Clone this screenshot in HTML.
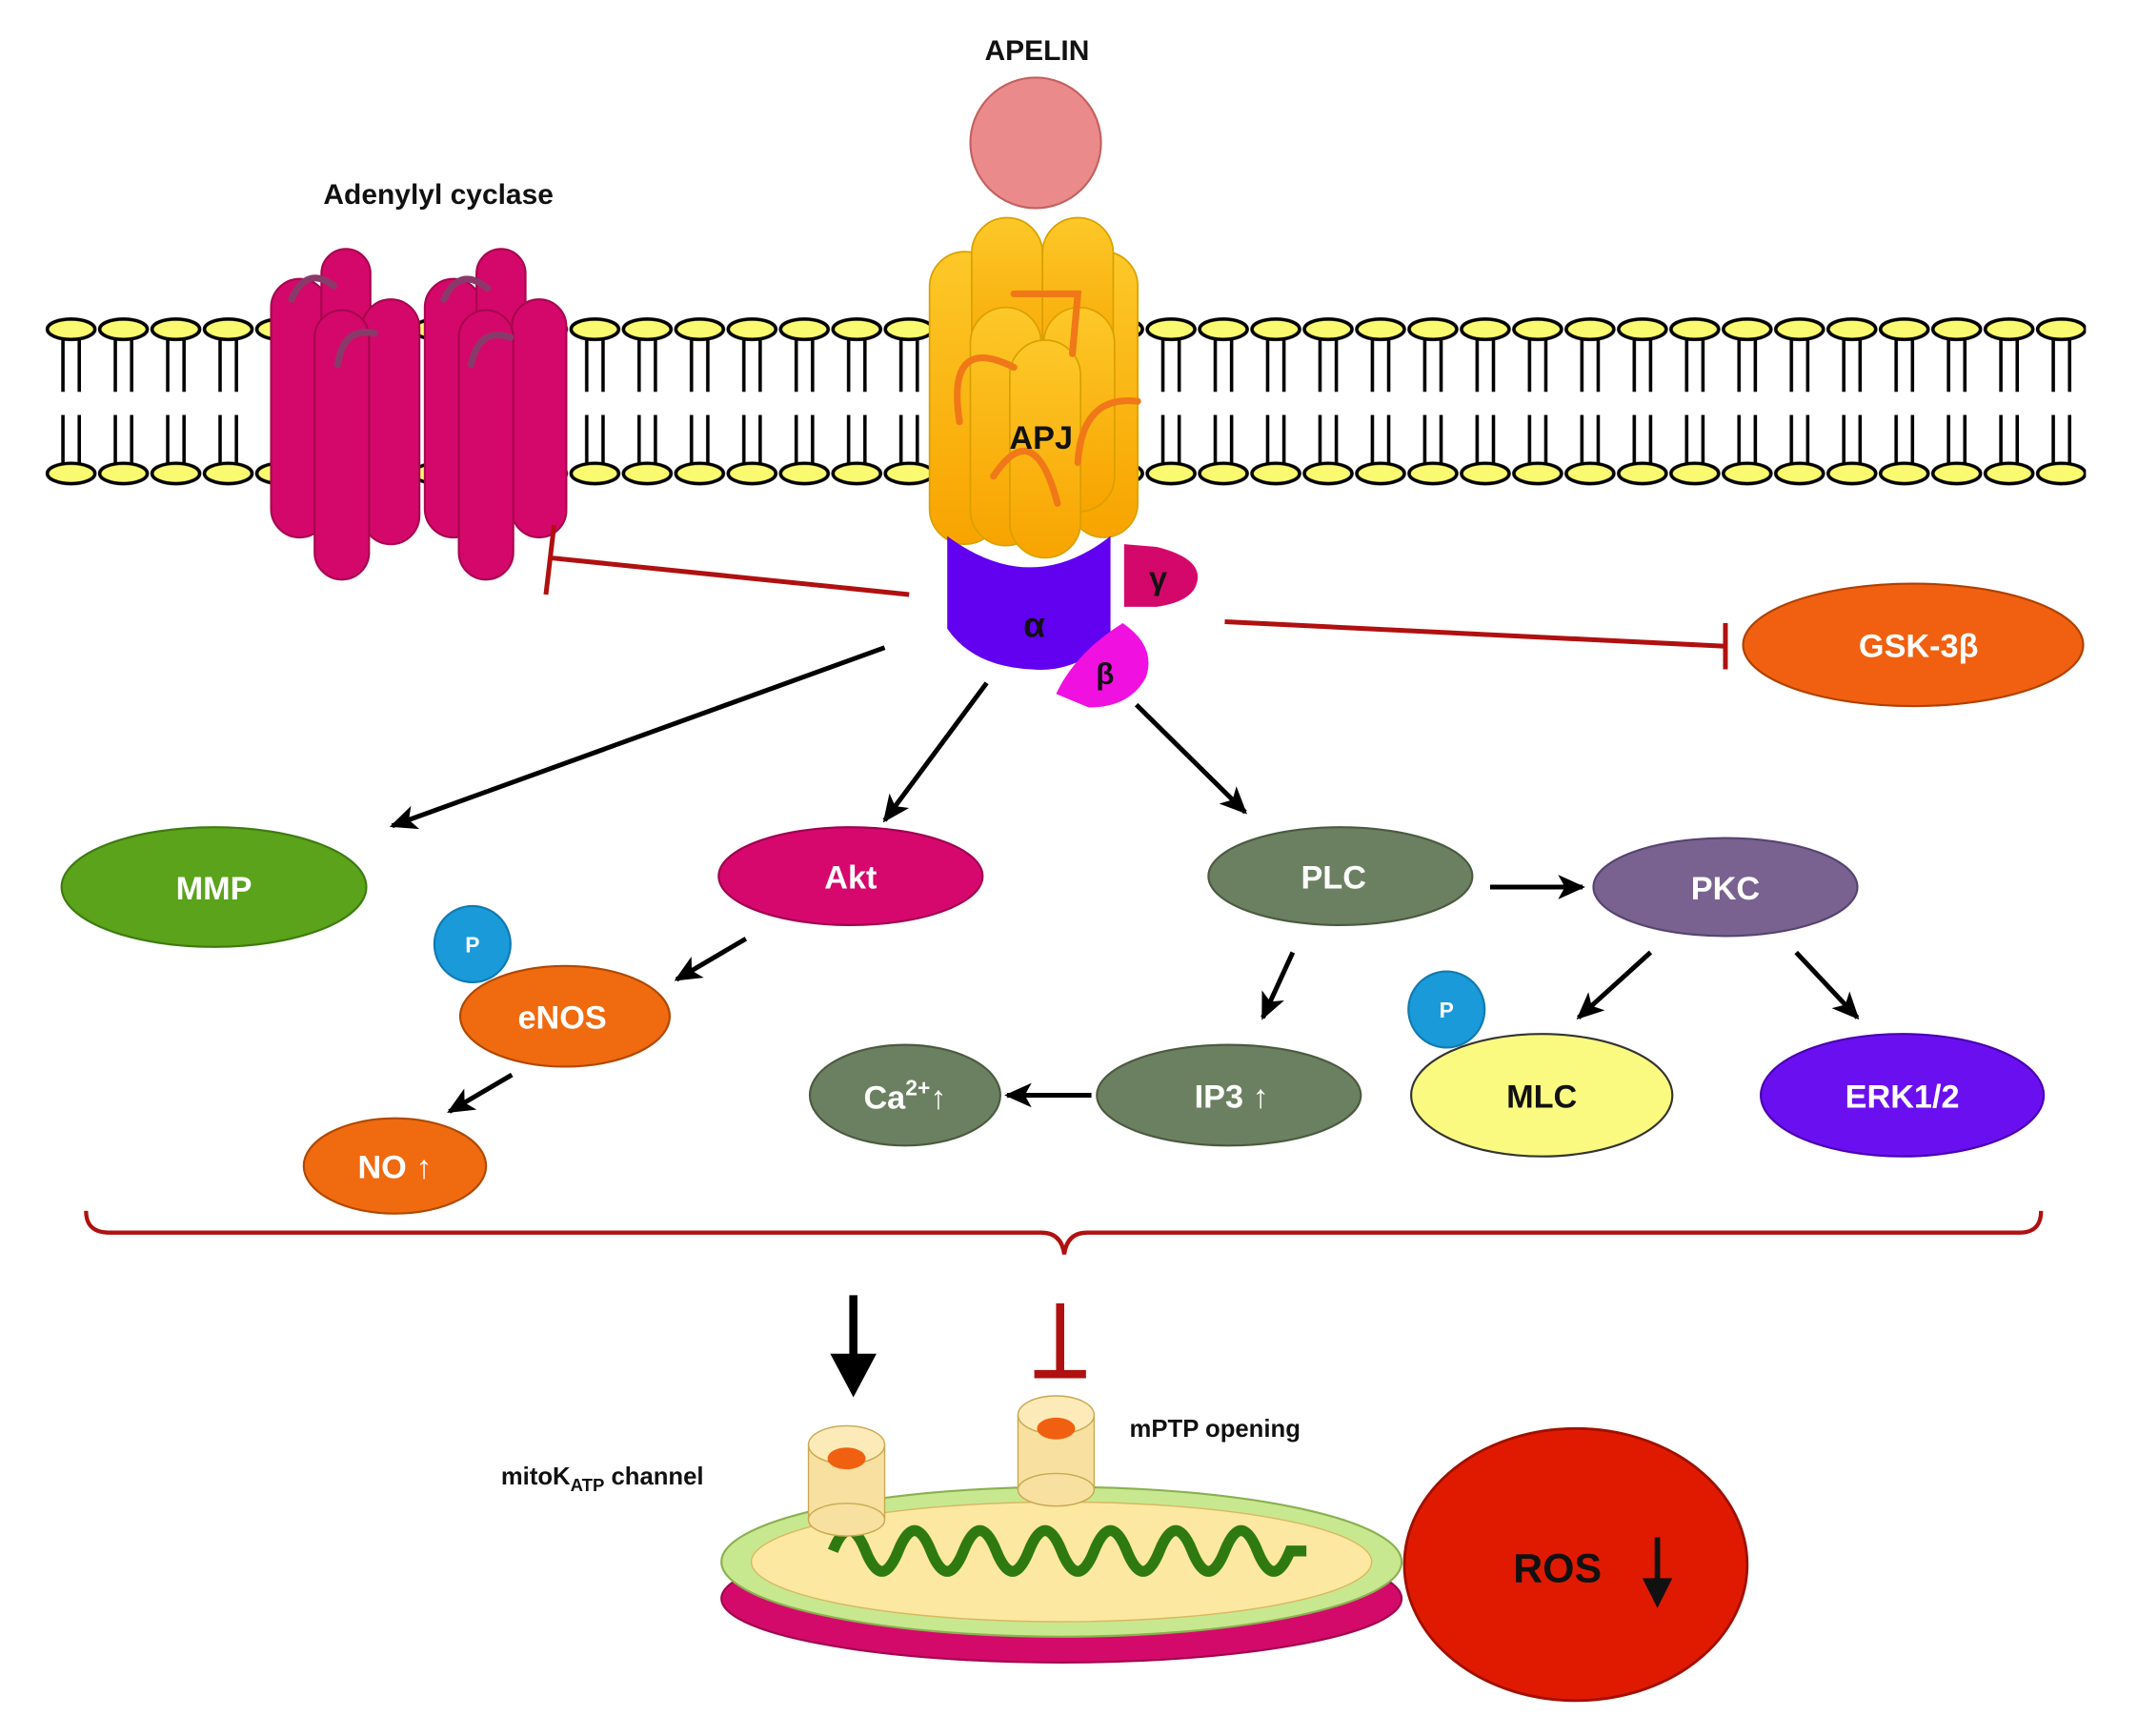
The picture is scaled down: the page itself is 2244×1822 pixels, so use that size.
<!DOCTYPE html>
<html><head><meta charset="utf-8"><style>html,body{margin:0;padding:0;background:#fff}svg{display:block}</style></head>
<body>
<svg width="2244" height="1822" viewBox="0 0 1571 1276" xmlns="http://www.w3.org/2000/svg" font-family="'Liberation Sans', 'DejaVu Sans', sans-serif" font-weight="bold">
<defs>
<pattern id="mem" patternUnits="userSpaceOnUse" x="33" y="230" width="38.5" height="128">
<g stroke="#000" stroke-width="2.5">
<line x1="13" y1="18" x2="13" y2="58"/><line x1="25" y1="18" x2="25" y2="58"/>
<line x1="13" y1="75" x2="13" y2="112"/><line x1="25" y1="75" x2="25" y2="112"/>
<ellipse cx="19" cy="12" rx="17.5" ry="7.5" fill="#fafa70"/>
<ellipse cx="19" cy="118" rx="17.5" ry="7.5" fill="#fafa70"/>
</g>
</pattern>
<linearGradient id="apj" x1="0" y1="0" x2="0" y2="1"><stop offset="0" stop-color="#fcc828"/><stop offset="1" stop-color="#f8a400"/></linearGradient>
<marker id="arb" markerWidth="24" markerHeight="24" refX="20" refY="12" orient="auto" markerUnits="userSpaceOnUse"><path d="M2,3 L22,12 L2,21 L7,12 Z" fill="#000"/></marker>
</defs>
<rect x="33" y="230" width="1500" height="128" fill="url(#mem)"/>

<text x="322" y="150" font-size="21" text-anchor="middle" fill="#111">Adenylyl cyclase</text>
<text x="762" y="44" font-size="21" text-anchor="middle" fill="#111">APELIN</text>

<g fill="#d4086a" stroke="#a8064f" stroke-width="1.5">
<rect x="199" y="205" width="42" height="190" rx="21"/>
<rect x="236" y="183" width="36" height="180" rx="18"/>
<rect x="266" y="220" width="42" height="180" rx="21"/>
<rect x="231" y="228" width="40" height="198" rx="20"/>
<rect x="312" y="205" width="42" height="190" rx="21"/>
<rect x="350" y="183" width="36" height="180" rx="18"/>
<rect x="376" y="220" width="40" height="175" rx="20"/>
<rect x="337" y="228" width="40" height="198" rx="20"/>
</g>
<g fill="none" stroke="#8a3a6a" stroke-width="5" stroke-linecap="round">
<path d="M214,220 Q225,195 245,210"/><path d="M248,268 Q252,240 275,245"/>
<path d="M326,220 Q338,195 358,212"/><path d="M346,268 Q352,240 375,248"/>
</g>

<circle cx="761" cy="105" r="48" fill="#eb8a8a" stroke="#c46060" stroke-width="1.5"/>

<g fill="url(#apj)" stroke="#d9a000" stroke-width="1.2">
<rect x="683" y="185" width="52" height="215" rx="26"/>
<rect x="786" y="185" width="50" height="210" rx="25"/>
<rect x="714" y="160" width="52" height="120" rx="26"/>
<rect x="766" y="160" width="52" height="120" rx="26"/>
<rect x="713" y="226" width="52" height="175" rx="26"/>
<rect x="767" y="226" width="52" height="150" rx="26"/>
<rect x="742" y="250" width="52" height="160" rx="26"/>
</g>
<g fill="none" stroke="#f07818" stroke-width="5" stroke-linecap="round">
<path d="M705,310 Q695,245 745,270"/><path d="M730,350 Q760,305 777,370"/>
<path d="M792,340 Q795,290 836,295"/><path d="M745,216 L792,216 L788,260"/>
</g>
<text x="765" y="330" font-size="24" text-anchor="middle" fill="#111">APJ</text>

<path d="M696,394 Q758,440 816,394 L816,470 Q790,495 758,492 Q715,490 696,462 Z" fill="#6200f0"/>
<text x="760" y="468" font-size="26" text-anchor="middle" fill="#111">α</text>
<path d="M826,400 L850,402 Q882,410 880,426 Q878,442 850,446 L826,446 Z" fill="#d4086a"/>
<text x="851" y="433" font-size="24" text-anchor="middle" fill="#111">γ</text>
<path d="M776,510 Q790,480 825,458 Q850,475 842,498 Q830,520 800,520 Z" fill="#f010e0"/>
<text x="812" y="503" font-size="22" text-anchor="middle" fill="#111">β</text>

<g stroke="#b01010" stroke-width="3.5" fill="none">
<line x1="668" y1="437" x2="404" y2="410"/><line x1="407" y1="386" x2="401" y2="437"/>
<line x1="900" y1="457" x2="1268" y2="475"/><line x1="1268" y1="458" x2="1268" y2="492"/>
</g>

<g stroke="#000" stroke-width="3.5" marker-end="url(#arb)">
<line x1="650" y1="476" x2="288" y2="607"/>
<line x1="725" y1="502" x2="650" y2="603"/>
<line x1="835" y1="518" x2="915" y2="597"/>
<line x1="1095" y1="652" x2="1163" y2="652"/>
<line x1="548" y1="690" x2="497" y2="720"/>
<line x1="950" y1="700" x2="928" y2="748"/>
<line x1="802" y1="805" x2="740" y2="805"/>
<line x1="1213" y1="700" x2="1160" y2="748"/>
<line x1="1320" y1="700" x2="1365" y2="748"/>
<line x1="376" y1="790" x2="330" y2="817"/>
</g>

<g stroke-width="1.5">
<ellipse cx="157" cy="652" rx="112" ry="44" fill="#5aa31a" stroke="#3e7a10"/>
<ellipse cx="625" cy="644" rx="97" ry="36" fill="#d6086e" stroke="#a00050"/>
<ellipse cx="985" cy="644" rx="97" ry="36" fill="#6b8060" stroke="#4a5a40"/>
<ellipse cx="1268" cy="652" rx="97" ry="36" fill="#7a6290" stroke="#554470"/>
<ellipse cx="415" cy="747" rx="77" ry="37" fill="#f06a10" stroke="#b04800"/>
<ellipse cx="290" cy="857" rx="67" ry="35" fill="#f06a10" stroke="#b04800"/>
<ellipse cx="903" cy="805" rx="97" ry="37" fill="#6b8060" stroke="#4a5a40"/>
<ellipse cx="665" cy="805" rx="70" ry="37" fill="#6b8060" stroke="#4a5a40"/>
<ellipse cx="1133" cy="805" rx="96" ry="45" fill="#fafa80" stroke="#333"/>
<ellipse cx="1398" cy="805" rx="104" ry="45" fill="#6a10f0" stroke="#4a00b0"/>
<ellipse cx="1406" cy="474" rx="125" ry="45" fill="#f06010" stroke="#b04000"/>
<circle cx="347" cy="694" r="28" fill="#1a9ad8" stroke="#107ab0"/>
<circle cx="1063" cy="742" r="28" fill="#1a9ad8" stroke="#107ab0"/>
</g>
<g fill="#fff" font-size="24" text-anchor="middle">
<text x="157" y="661">MMP</text>
<text x="625" y="653">Akt</text>
<text x="980" y="653">PLC</text>
<text x="1268" y="661">PKC</text>
<text x="413" y="756">eNOS</text>
<text x="290" y="866">NO ↑</text>
<text x="905" y="814">IP3 ↑</text>
<text x="665" y="815">Ca<tspan font-size="16" dy="-10">2+</tspan><tspan dy="10">↑</tspan></text>
<text x="1398" y="814">ERK1/2</text>
<text x="1410" y="483">GSK-3β</text>
<text x="347" y="700" font-size="16">P</text>
<text x="1063" y="748" font-size="16">P</text>
</g>
<text x="1133" y="814" font-size="24" text-anchor="middle" fill="#111">MLC</text>

<path d="M63,890 Q63,906 80,906 L765,906 Q780,906 782,922 Q784,906 799,906 L1484,906 Q1500,906 1500,890" fill="none" stroke="#b01010" stroke-width="3"/>

<line x1="627" y1="952" x2="627" y2="1000" stroke="#000" stroke-width="6"/>
<path d="M610,995 L627,1027 L644,995 Z" fill="#000"/>
<line x1="779" y1="958" x2="779" y2="1010" stroke="#b01010" stroke-width="6"/>
<line x1="760" y1="1010" x2="798" y2="1010" stroke="#b01010" stroke-width="6"/>

<ellipse cx="780" cy="1175" rx="250" ry="47" fill="#d40a6a" stroke="#a0064e" stroke-width="1.5"/>
<ellipse cx="780" cy="1148" rx="250" ry="55" fill="#c8e890" stroke="#8ab050" stroke-width="1.5"/>
<ellipse cx="780" cy="1148" rx="228" ry="44" fill="#fce8a0" stroke="#d8b860" stroke-width="1"/>
<path d="M612,1140 q12,-30 24,0 q12,30 24,0 q12,-30 24,0 q12,30 24,0 q12,-30 24,0 q12,30 24,0 q12,-30 24,0 q12,30 24,0 q12,-30 24,0 q12,30 24,0 q12,-30 24,0 q12,30 24,0 q12,-30 24,0 q12,30 24,0 L960,1140" fill="none" stroke="#2e7a10" stroke-width="8"/>

<g>
<rect x="594" y="1062" width="56" height="55" fill="#f8e0a0" stroke="#c8a850"/>
<ellipse cx="622" cy="1117" rx="28" ry="12" fill="#f8e0a0" stroke="#c8a850"/>
<ellipse cx="622" cy="1062" rx="28" ry="14" fill="#fcebb8" stroke="#c8a850"/>
<ellipse cx="622" cy="1072" rx="14" ry="8" fill="#f06010"/>
<rect x="748" y="1040" width="56" height="55" fill="#f8e0a0" stroke="#c8a850"/>
<ellipse cx="776" cy="1095" rx="28" ry="12" fill="#f8e0a0" stroke="#c8a850"/>
<ellipse cx="776" cy="1040" rx="28" ry="14" fill="#fcebb8" stroke="#c8a850"/>
<ellipse cx="776" cy="1050" rx="14" ry="8" fill="#f06010"/>
</g>
<text x="368" y="1091" font-size="18" fill="#111">mitoK<tspan font-size="13" dy="5">ATP</tspan><tspan dy="-5"> channel</tspan></text>
<text x="830" y="1056" font-size="18" fill="#111">mPTP opening</text>

<ellipse cx="1158" cy="1150" rx="126" ry="100" fill="#e01a00" stroke="#a01000" stroke-width="2"/>
<text x="1112" y="1163" font-size="30" fill="#111">ROS</text>
<line x1="1218" y1="1130" x2="1218" y2="1165" stroke="#111" stroke-width="4"/>
<path d="M1207,1160 L1218,1182 L1229,1160 Z" fill="#111"/>
</svg>
</body></html>
